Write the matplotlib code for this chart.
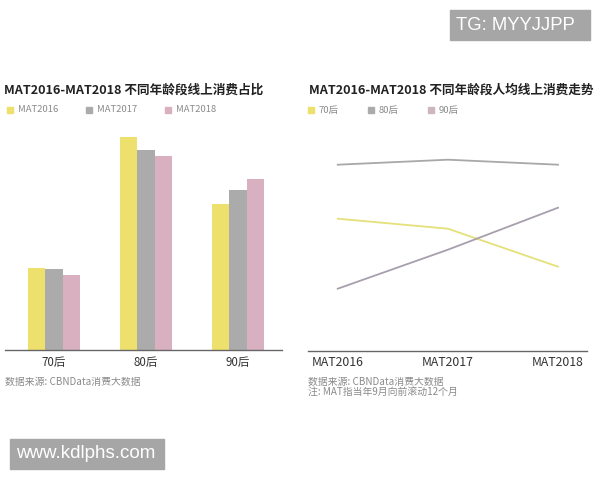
import numpy as np
import matplotlib
matplotlib.use("Agg")
import matplotlib.pyplot as plt
from matplotlib.patches import Rectangle

plt.rcParams['font.family'] = ['Noto Sans CJK SC', 'DejaVu Sans']

# --------------------------
# data
# --------------------------
age_groups = ["70后", "80后", "90后"]
years = ["MAT2016", "MAT2017", "MAT2018"]

# share of online spending by age group (%)
share_2016 = [18.6, 48.3, 33.1]
share_2017 = [18.3, 45.5, 36.2]
share_2018 = [17.1, 44.0, 38.9]

# per-capita online spending trend (relative index)
trend_70 = [132, 122, 84]
trend_80 = [186, 191, 186]
trend_90 = [62, 101, 143]

bar_colors = ["#EDE06C", "#ABABAB", "#D9B0C0"]
line_colors = ["#E6E07A", "#A8A8A8", "#A79FAD"]
legend_line_colors = ["#EDE06C", "#ABABAB", "#CDB6BF"]

W, H = 600, 480
fig = plt.figure(figsize=(6, 4.8), dpi=100)


def px_axes(x0, y0, x1, y1):
    return fig.add_axes([x0 / W, 1 - y1 / H, (x1 - x0) / W, (y1 - y0) / H])


def clean(ax):
    for s in ["top", "right", "left"]:
        ax.spines[s].set_visible(False)
    ax.spines["bottom"].set_color("#666666")
    ax.spines["bottom"].set_linewidth(1.0)
    ax.set_yticks([])
    ax.tick_params(axis="x", length=0, pad=4)
    ax.patch.set_alpha(0)


def legend_row(x_list, y, labels, colors):
    for x, lab, c in zip(x_list, labels, colors):
        fig.patches.append(Rectangle((x / W, 1 - (y + 3) / H), 6 / W, 6 / H,
                                     transform=fig.transFigure, color=c, zorder=3))
        fig.text((x + 11) / W, 1 - y / H, lab, fontsize=6.8, color="#8a8a8a",
                 va="center", ha="left")


# --------------------------
# left: grouped bars
# --------------------------
ax1 = px_axes(5, 120, 282, 350)
x = np.arange(len(age_groups))
bw = 0.188
for i, (vals, c) in enumerate(zip([share_2016, share_2017, share_2018], bar_colors)):
    ax1.bar(x + (i - 1) * bw, vals, bw, color=c, linewidth=0)
ax1.set_xlim(-0.533, 2.478)
ax1.set_ylim(0, 52.2)
ax1.set_xticks(x)
ax1.set_xticklabels(age_groups, fontsize=8.3, color="#333333")
clean(ax1)

fig.text(4 / W, 1 - 90 / H, "MAT2016-MAT2018 不同年龄段线上消费占比",
         fontsize=9.1, fontweight="bold", color="#222222", va="center", ha="left")
legend_row([7, 86, 165], 110, years, bar_colors)
fig.text(5 / W, 1 - 382 / H, "数据来源: CBNData消费大数据", fontsize=7.1,
         color="#8a8a8a", va="center", ha="left")

# --------------------------
# right: lines
# --------------------------
ax2 = px_axes(308, 120, 587, 350.7)
xl = np.arange(len(years))
for vals, c in zip([trend_70, trend_80, trend_90], line_colors):
    ax2.plot(xl, vals, color=c, linewidth=1.3)
ax2.set_xlim(-0.27, 2.263)
ax2.set_ylim(0, 230.7)
ax2.set_xticks(xl)
ax2.set_xticklabels(years, fontsize=8.8, color="#333333", fontweight="medium")
clean(ax2)

fig.text(309 / W, 1 - 90 / H, "MAT2016-MAT2018 不同年龄段人均线上消费走势",
         fontsize=9.1, fontweight="bold", color="#222222", va="center", ha="left")
legend_row([308, 368, 428], 110, age_groups, legend_line_colors)
fig.text(308 / W, 1 - 382 / H, "数据来源: CBNData消费大数据", fontsize=7.1,
         color="#8a8a8a", va="center", ha="left")
fig.text(308 / W, 1 - 392 / H, "注: MAT指当年9月向前滚动12个月", fontsize=7.1,
         color="#8a8a8a", va="center", ha="left")

# --------------------------
# watermark boxes
# --------------------------
fig.patches.append(Rectangle((450 / W, 1 - 40 / H), 140 / W, 30 / H,
                             transform=fig.transFigure, color="#a6a6a6", zorder=3))
fig.text(456 / W, 1 - 25 / H, "TG: MYYJJPP", fontsize=13.3, color="white",
         family="Liberation Sans", va="center", ha="left", zorder=4)
fig.patches.append(Rectangle((10 / W, 1 - 469 / H), 154 / W, 30 / H,
                             transform=fig.transFigure, color="#a6a6a6", zorder=3))
fig.text(16 / W, 1 - 454 / H, "www.kdlphs.com", fontsize=13.5, color="white",
         family="Liberation Sans", va="center", ha="left", zorder=4)

fig.savefig("out.png", dpi=100, facecolor="white")
